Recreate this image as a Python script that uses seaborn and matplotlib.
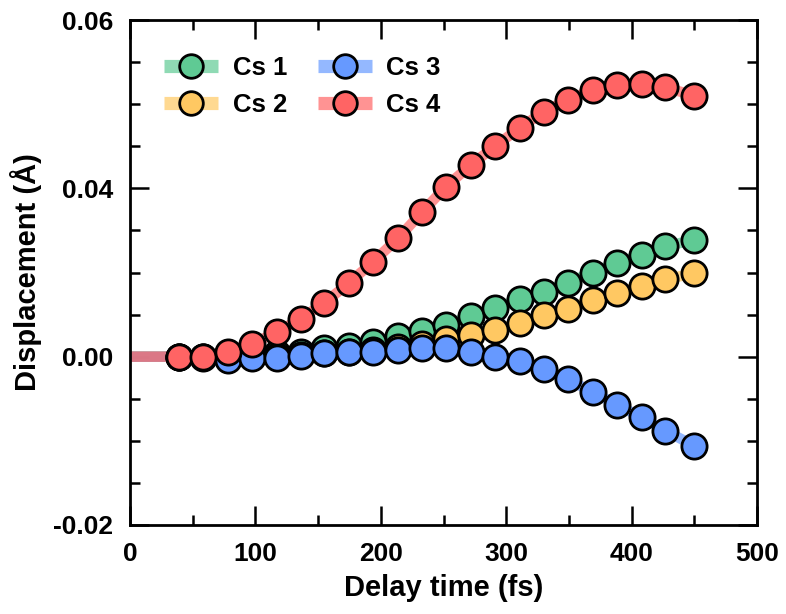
import matplotlib
matplotlib.use("Agg")
import matplotlib.pyplot as plt
import seaborn as sns
import pandas as pd
from matplotlib.ticker import MultipleLocator, FixedLocator, FixedFormatter
from matplotlib.lines import Line2D

sns.set_theme(style="ticks")
plt.rcParams['font.family'] = ['Liberation Sans', 'DejaVu Sans']
plt.rcParams['text.color'] = 'black'
plt.rcParams['axes.labelcolor'] = 'black'
plt.rcParams['xtick.color'] = 'black'
plt.rcParams['ytick.color'] = 'black'

# Delay times (fs); lines start from the origin at t = 0
times = [0, 39, 58, 78, 97, 117, 136, 155, 175, 194, 214, 233, 252, 272, 291,
         311, 330, 349, 369, 388, 408, 427, 450]

cs1 = [0, 0, 0, 0, 0.0001, 0.0004, 0.0006, 0.0010, 0.0013, 0.0018, 0.0024, 0.0030,
       0.0038, 0.0048, 0.0058, 0.0068, 0.0077, 0.0088, 0.0100, 0.0111, 0.0121,
       0.0131, 0.0139]
cs2 = [0, 0, 0, 0, 0, 0.0001, 0.0002, 0.0004, 0.0006, 0.0008, 0.0012, 0.0015,
       0.0021, 0.0026, 0.0032, 0.0040, 0.0049, 0.0057, 0.0067, 0.0076, 0.0084,
       0.0092, 0.0099]
cs3 = [0, 0, -0.0001, -0.0004, -0.0002, -0.0001, 0.0001, 0.0004, 0.0005, 0.0006,
       0.0008, 0.0010, 0.0010, 0.0006, 0.0000, -0.0005, -0.0015, -0.0027, -0.0042,
       -0.0057, -0.0072, -0.0088, -0.0106]
cs4 = [0, 0, 0, 0.0006, 0.0015, 0.0029, 0.0045, 0.0064, 0.0088, 0.0113, 0.0141,
       0.0172, 0.0202, 0.0228, 0.0250, 0.0272, 0.0291, 0.0305, 0.0317, 0.0323,
       0.0324, 0.0320, 0.0310]

series_names = ["Cs 1", "Cs 2", "Cs 3", "Cs 4"]
series_values = [cs1, cs2, cs3, cs4]
marker_colors = ["#5fca94", "#ffc862", "#6699ff", "#ff6464"]

ytick_pos = [-0.02, 0.0, 0.02, 0.04]
ytick_labels = ["-0.02", "0.00", "0.04", "0.06"]
xtick_pos = [0, 100, 200, 300, 400, 500]

fig = plt.figure(figsize=(7.86, 6.14), dpi=100)
ax = fig.add_axes([130/786, 1-525/614, (757-130)/786, (525-20)/614])

LINE_ALPHA = 0.7
for name, vals, mc in zip(series_names, series_values, marker_colors):
    df = pd.DataFrame({"t": times, "d": vals})
    sns.lineplot(data=df, x="t", y="d", ax=ax, color=mc, linewidth=7.5,
                 alpha=LINE_ALPHA, solid_capstyle="butt", legend=False, zorder=2)
    sns.scatterplot(data=df.iloc[1:], x="t", y="d", ax=ax, color=mc, s=330,
                    edgecolor="black", linewidth=2, legend=False, zorder=3)

def blend(c, a=LINE_ALPHA):
    import matplotlib.colors as mcolors
    r, g, b = mcolors.to_rgb(c)
    return (1 - a + a * r, 1 - a + a * g, 1 - a + a * b)

handles = [Line2D([0], [0], color=blend(mc), lw=9.5, marker="o", markersize=17,
                  markerfacecolor=mc, markeredgecolor="black", markeredgewidth=2,
                  solid_capstyle="butt")
           for mc in marker_colors]
leg = ax.legend(handles, series_names, ncol=2, loc="upper left", frameon=False,
                bbox_to_anchor=(0.018, 0.975), handlelength=2.1, columnspacing=1.2,
                handletextpad=0.55, labelspacing=0.5,
                prop={"family": "Liberation Sans", "weight": "bold", "size": 18.5})

ax.set_xlim(0, 500)
ax.set_ylim(-0.02, 0.04)
ax.xaxis.set_major_locator(FixedLocator(xtick_pos))
ax.xaxis.set_minor_locator(MultipleLocator(50))
ax.yaxis.set_major_locator(FixedLocator(ytick_pos))
ax.yaxis.set_major_formatter(FixedFormatter(ytick_labels))
ax.yaxis.set_minor_locator(MultipleLocator(0.005))

ax.tick_params(which="both", direction="in", top=True, right=True, width=1.8,
               colors="black")
ax.tick_params(which="major", length=14, pad=12, labelsize=19)
ax.tick_params(which="minor", length=7)
for lab in ax.get_xticklabels() + ax.get_yticklabels():
    lab.set_fontweight("bold")
for sp in ax.spines.values():
    sp.set_linewidth(2)
    sp.set_color("black")

ax.set_xlabel("Delay time (fs)", fontsize=21, fontweight="bold", labelpad=6)
ax.set_ylabel("Displacement (Å)", fontsize=21, fontweight="bold", labelpad=8)

fig.savefig("out.png", dpi=100, facecolor="white")
